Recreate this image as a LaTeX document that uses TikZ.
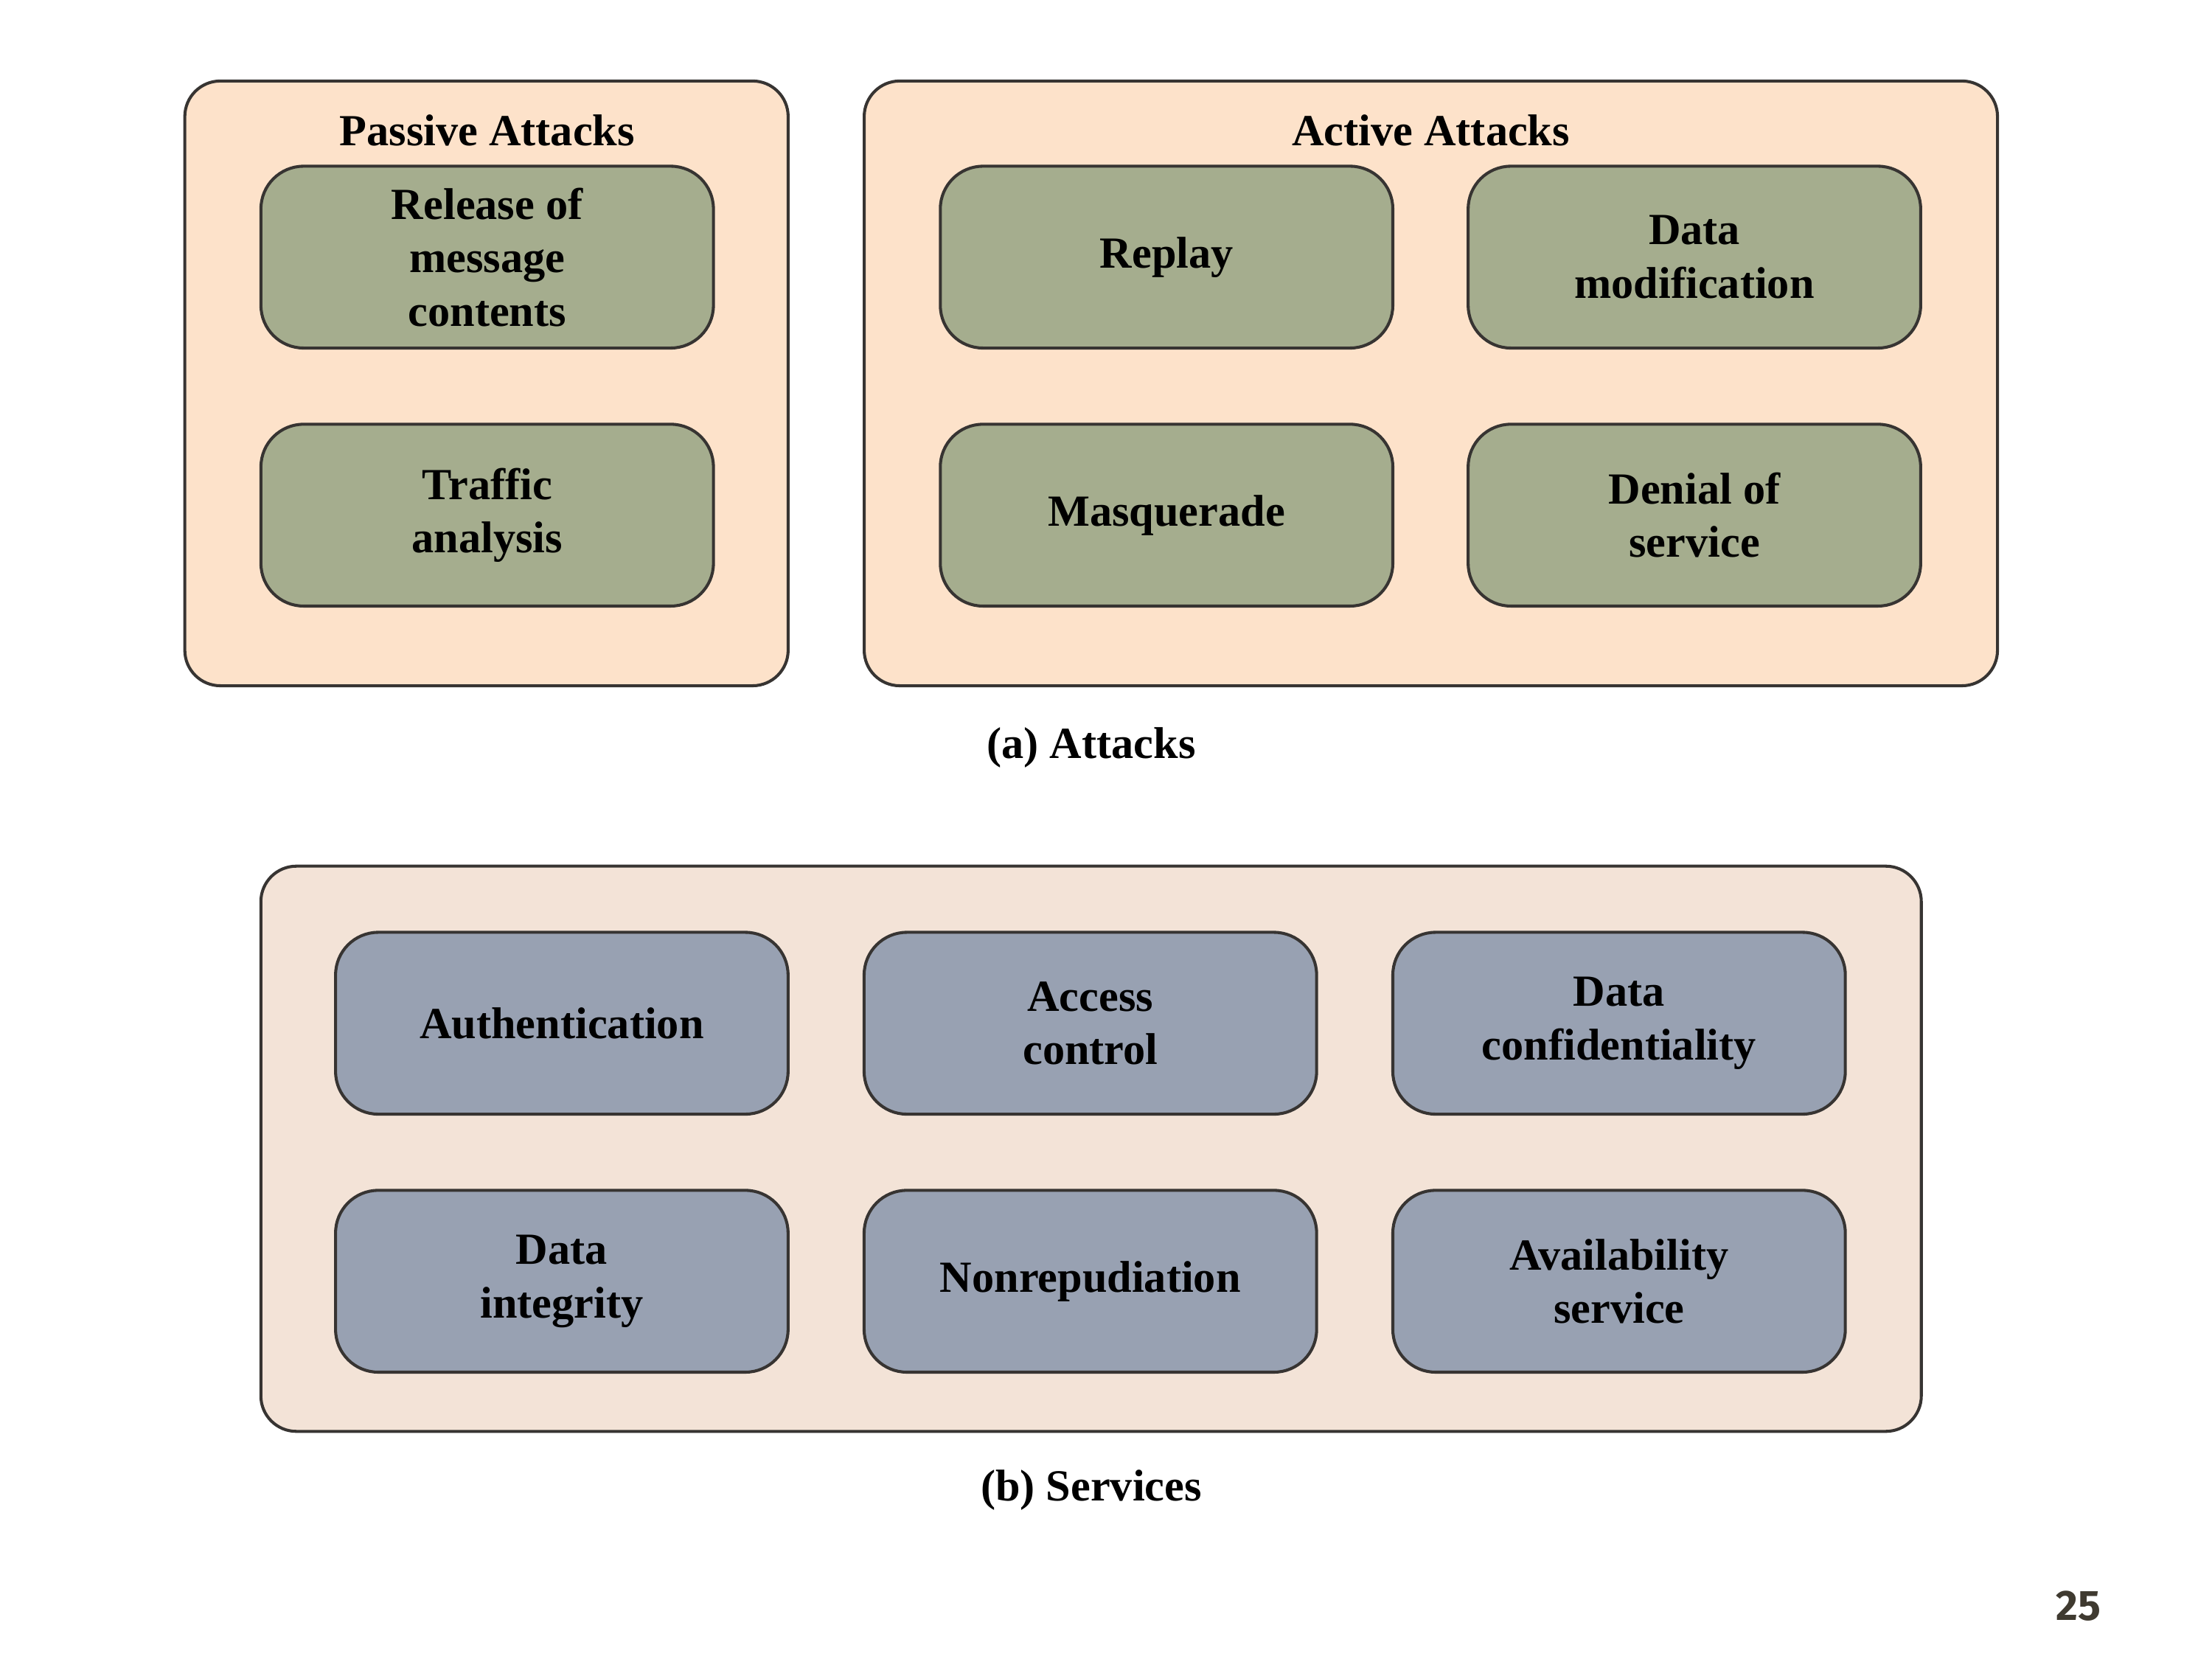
\documentclass[tikz,border=0pt]{standalone}
\usepackage{fontspec}
\setmainfont{Liberation Serif}
\newfontfamily\pagefont{Fira Sans}
\definecolor{peach}{RGB}{253,226,202}
\definecolor{sand}{RGB}{243,227,215}
\definecolor{olive}{RGB}{165,173,142}
\definecolor{slate}{RGB}{152,161,178}
\definecolor{rim}{RGB}{55,52,50}
\begin{document}
\begin{tikzpicture}[line join=round,font=\fontsize{8.9}{10.7}\selectfont\bfseries,
	outer/.style={draw=rim,line width=0.6pt,rounded corners=0.25cm,inner sep=0pt},
	item/.style={draw=rim,line width=0.6pt,rounded corners=0.3cm,align=center,
		minimum width=3.183cm,minimum height=1.279cm,inner sep=0pt},
	attack/.style={item,fill=olive},
	service/.style={item,fill=slate}]
		\useasboundingbox (0,0) rectangle (15.56,11.67);
		% (a) attacks
		\node[outer,fill=peach,minimum width=4.244cm,minimum height=4.254cm] (passive) at (3.422,8.973){};
		\node[outer,fill=peach,minimum width=7.972cm,minimum height=4.254cm] (active) at (10.065,8.973){};
		\node (ptitle) at (3.427,10.753){Passive Attacks};
		\node (atitle) at (10.065,10.753){Active Attacks};
		\node[attack] (release) at (3.427,9.861){Release of\\message\\contents};
		\node[attack] (traffic) at (3.427,8.046){Traffic\\analysis};
		\node[attack] (replay) at (8.206,9.861){Replay};
		\node[attack] (modif) at (11.919,9.861){Data\\modification};
		\node[attack] (masq) at (8.206,8.046){Masquerade};
		\node[attack] (denial) at (11.919,8.046){Denial of\\service};
		\node (capa) at (7.676,6.41){(a) Attacks};
		% (b) services
		\node[outer,fill=sand,minimum width=11.68cm,minimum height=3.976cm] (services) at (7.675,3.589){};
		\node[service] (auth) at (3.952,4.472){Authentication};
		\node[service] (access) at (7.670,4.472){Access\\control};
		\node[service] (conf) at (11.389,4.472){Data\\confidentiality};
		\node[service] (integ) at (3.952,2.657){Data\\integrity};
		\node[service] (nonrep) at (7.670,2.657){Nonrepudiation};
		\node[service] (avail) at (11.389,2.657){Availability\\service};
		\node (capb) at (7.676,1.19){(b) Services};
		\node[font=\pagefont\fontsize{8.5}{10}\selectfont\bfseries,text={rgb,255:red,63;green,58;blue,48}] (page) at (14.62,0.375){25};
\end{tikzpicture}
\end{document}
